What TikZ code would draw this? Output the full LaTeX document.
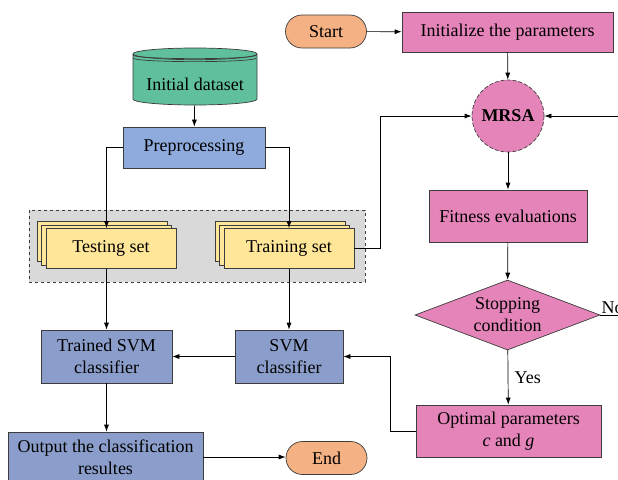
\documentclass[tikz,border=0pt]{standalone}
\usepackage{fontspec}
\setmainfont{Liberation Serif}
\usetikzlibrary{shapes.geometric,shapes.misc,shadows,arrows.meta,calc}

\definecolor{dataGreen}{RGB}{95,192,155}
\definecolor{prepBlue}{RGB}{143,170,220}
\definecolor{svmBlue}{RGB}{139,158,203}
\definecolor{setYellow}{RGB}{255,230,153}
\definecolor{algoPink}{RGB}{229,132,185}
\definecolor{termOrange}{RGB}{244,177,131}
\definecolor{groupGray}{RGB}{217,217,217}
\definecolor{edgeGray}{RGB}{60,60,60}

\begin{document}
\begin{tikzpicture}[x=1pt,y=-1pt,->,>={Latex[length=7pt,width=5pt]},
        line width=0.7pt,font=\fontsize{18}{22}\selectfont,
        box/.style={draw=edgeGray,align=center,inner sep=0pt},
        pink box/.style={box,rectangle,fill=algoPink},
        blue box/.style={box,rectangle,fill=svmBlue},
        terminal/.style={box,rounded rectangle,fill=termOrange,
            minimum width=81,minimum height=33},
        set box/.style={box,rectangle,fill=setYellow,minimum width=130,minimum height=40,
            double copy shadow={shadow xshift=-4.5pt,shadow yshift=3.5pt,
                fill=setYellow,draw=edgeGray}}]

        \useasboundingbox (0,0) rectangle (618,479);
        \clip (0,0) rectangle (618,479);

        % Background of the data sets
        \draw[dashed,draw=edgeGray,fill=groupGray] (29,210) rectangle (365,282);

        % SVM side
        \node[box,cylinder,shape border rotate=90,aspect=0.12,fill=dataGreen,anchor=shape center,
            minimum width=124,minimum height=57,
            label={[yshift=-5pt]center:Initial dataset}] (data) at (195,76.5) {\phantom{Initial dataset}};
        \node[box,rectangle,fill=prepBlue,minimum width=142,minimum height=41] (prep) at (194,147.5) {Preprocessing};
        \node[set box] (test) at (111,248.5) {Testing set};
        \node[set box] (train) at (289,248.5) {Training set};
        \node[blue box,minimum width=131,minimum height=53] (trained) at (106.5,356.5) {Trained SVM\\classifier};
        \node[blue box,minimum width=108,minimum height=53] (svm) at (289,356.5) {SVM\\classifier};
        \node[blue box,minimum width=195,minimum height=50] (output) at (105.5,457) {Output the classification\\resultes};
        \node[terminal] (end) at (326.5,458) {End};

        % MRSA side
        \node[terminal] (start) at (326,31.5) {Start};
        \node[pink box,minimum width=211,minimum height=40] (init) at (507.5,32) {Initialize the parameters};
        \node[box,circle,fill=algoPink,minimum size=72,dash pattern=on 4pt off 2pt,
            font=\fontsize{18}{22}\selectfont\bfseries] (mrsa) at (508,116) {MRSA};
        \node[pink box,minimum width=158,minimum height=52] (fit) at (508,216) {Fitness evaluations};
        \node[box,diamond,fill=algoPink,minimum width=185,minimum height=70,
            label={[align=center]center:Stopping\\condition}] (stop) at (507.5,315) {};
        \node[pink box,minimum width=185,minimum height=52] (opt) at (508.5,431) {Optimal parameters\\\textit{c} and \textit{g}};
        \coordinate (loop) at (640,116);

        % Lines on the cylinder top
        \draw[-,edgeGray] ($(data.north -| data.west)+(0.5,7.5)$) arc[start angle=180,end angle=360,x radius=61.5pt,y radius=3.5pt];
        \draw[-,edgeGray] ($(data.north -| data.west)+(0.5,10.5)$) arc[start angle=180,end angle=360,x radius=61.5pt,y radius=3.5pt];

        % Draw edges
        \draw (data) -- (prep);
        \draw (prep.west) -| (trained.north |- test.north);
        \draw (prep.east) -| (train.north);
        \draw (trained.north |- test.south) -- (trained.north);
        \draw (train) -- (svm);
        \draw (svm) -- (trained);
        \draw (trained) -- (trained |- output.north);
        \draw (output.east) -- (output.east -| end.west);
        \draw (train.east) -- ++(26,0) |- (mrsa.west);
        \draw (start) -- (init);
        \draw (init) -- (mrsa);
        \draw (mrsa) -- (fit);
        \draw (fit) -- (stop);
        \draw (stop) -- node[right=3pt] {Yes} (opt);
        \draw (stop.east) -| node[pos=0,anchor=south west,inner sep=1pt] {No} (loop) -- (mrsa.east);
        \draw (opt.west) -- ++(-25,0) |- (svm.east);

\end{tikzpicture}
\end{document}
